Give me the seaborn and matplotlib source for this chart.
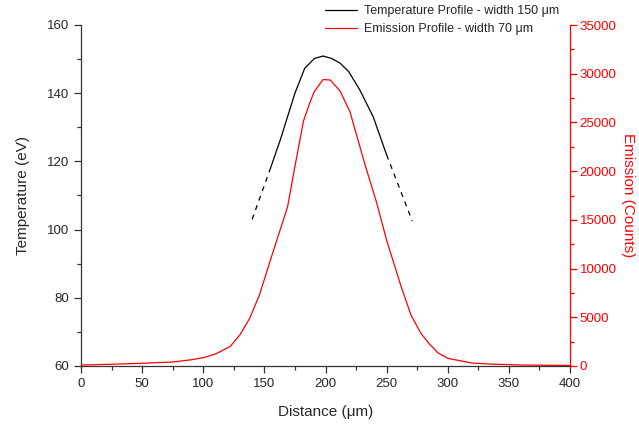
import matplotlib
matplotlib.use("Agg")
import matplotlib.pyplot as plt
import seaborn as sns
import pandas as pd
from matplotlib.ticker import MultipleLocator
from matplotlib.lines import Line2D

# ---- data ----
temp_x = [140, 155, 163, 175, 183, 191, 198, 205, 212, 219, 228, 239, 250, 271]
temp_y = [103, 118, 126.3, 140, 147.3, 150.2, 150.9, 150.2, 148.8, 146.3, 141, 133.1, 121.9, 102.5]
solid_from, solid_to = 1, 12  # indices where the measured (solid) part starts/ends

em_x = [0, 25, 50, 75, 89, 100, 110, 122, 130, 138, 146, 155, 169, 175, 182, 188,
        191, 198, 204, 212, 220, 232, 242, 250, 262, 270, 278, 285, 292, 300, 310,
        320, 335, 360, 385, 400]
em_y = [100, 180, 280, 410, 620, 850, 1230, 2000, 3200, 4900, 7300, 10900, 16350,
        20500, 25150, 27300, 28200, 29400, 29350, 28200, 26100, 20800, 16700, 12900,
        8100, 5200, 3360, 2260, 1350, 790, 540, 300, 200, 100, 70, 60]

temp_label = "Temperature Profile - width 150 \u03bcm"
em_label = "Emission Profile - width 70 \u03bcm"

sns.set_style("ticks")
plt.rcParams['font.family'] = ['Liberation Sans', 'DejaVu Sans']

fig = plt.figure(figsize=(6.39, 4.24), dpi=100)
ax = fig.add_axes([81/639, 1-366/424, 489/639, 341/424])
ax2 = ax.twinx()

red = "#ff0000"
dash = (0, (4, 4))

# temperature: dashed extrapolations + solid core
df_l = pd.DataFrame({"x": temp_x[:solid_from+1], "y": temp_y[:solid_from+1]})
df_s = pd.DataFrame({"x": temp_x[solid_from:solid_to+1], "y": temp_y[solid_from:solid_to+1]})
df_r = pd.DataFrame({"x": temp_x[solid_to:], "y": temp_y[solid_to:]})
sns.lineplot(data=df_l, x="x", y="y", ax=ax, color="black", lw=0.9, linestyle=dash, sort=False)
sns.lineplot(data=df_s, x="x", y="y", ax=ax, color="black", lw=0.9, sort=False)
sns.lineplot(data=df_r, x="x", y="y", ax=ax, color="black", lw=0.9, linestyle=dash, sort=False)

df_e = pd.DataFrame({"x": em_x, "y": em_y})
sns.lineplot(data=df_e, x="x", y="y", ax=ax2, color=red, lw=0.9, sort=False)

ax.set_xlim(0, 400)
ax.set_ylim(60, 160)
ax2.set_ylim(0, 35000)

ax.xaxis.set_major_locator(MultipleLocator(50))
ax.xaxis.set_minor_locator(MultipleLocator(25))
ax.yaxis.set_major_locator(MultipleLocator(20))
ax.yaxis.set_minor_locator(MultipleLocator(10))
ax2.yaxis.set_major_locator(MultipleLocator(5000))
ax2.yaxis.set_minor_locator(MultipleLocator(2500))

for a in (ax, ax2):
    a.spines['top'].set_visible(False)
ax.spines['right'].set_visible(False)
ax2.spines['left'].set_visible(False)
ax2.spines['bottom'].set_visible(False)
ax2.spines['right'].set_color(red)
for s in ('left', 'bottom'):
    ax.spines[s].set_color("#333333")
    ax.spines[s].set_linewidth(0.9)
ax2.spines['right'].set_linewidth(0.9)

ax.tick_params(which='major', length=5, width=0.9, direction='out', labelsize=9.5, color="#333333")
ax.tick_params(which='minor', length=3, width=0.9, direction='out', color="#333333")
ax2.tick_params(which='major', length=5, width=0.9, direction='out', labelsize=9.5,
                color=red, labelcolor=red, pad=2)
ax2.tick_params(which='minor', length=3, width=0.9, direction='out', color=red)

ax.set_xlabel("Distance (\u03bcm)", fontsize=11, labelpad=11)
ax.set_ylabel("Temperature (eV)", fontsize=11, labelpad=12)
ax2.set_ylabel("Emission (Counts)", fontsize=11, color=red, rotation=270, labelpad=13)

handles = [Line2D([0], [0], color="black", lw=0.9),
           Line2D([0], [0], color=red, lw=0.9)]
fig.legend(handles, [temp_label, em_label], loc="upper left",
           bbox_to_anchor=(317/639, 1.005), frameon=False, fontsize=9,
           handlelength=2.6, handletextpad=0.6, labelspacing=0.45, borderaxespad=0.2)

fig.savefig("out.png", dpi=100)
